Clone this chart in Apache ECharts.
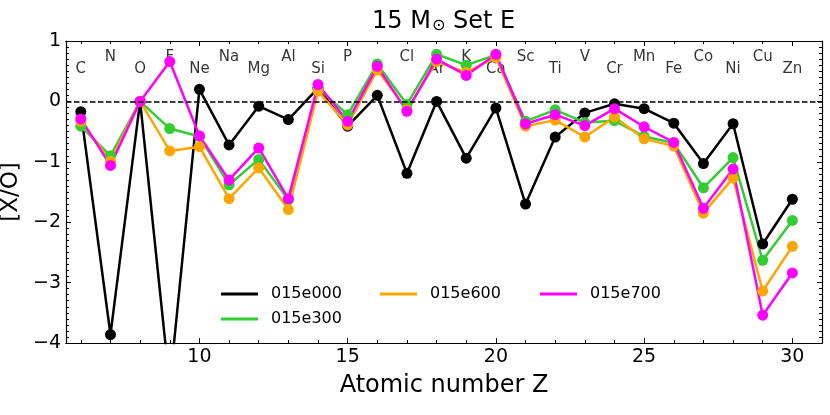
<!DOCTYPE html>
<html>
<head>
<meta charset="utf-8">
<script src="https://cdn.jsdelivr.net/npm/echarts@6/dist/echarts.min.js"></script>
<style>
  html, body { margin: 0; padding: 0; background: #fff; }
  #main { width: 830px; height: 415px; }
</style>
</head>
<body>
<div id="main"></div>
<script>
// atomic numbers and element symbols
var Z = [6, 7, 8, 9, 10, 11, 12, 13, 14, 15, 16, 17, 18, 19, 20, 21, 22, 23, 24, 25, 26, 27, 28, 29, 30];
var elements = ['C', 'N', 'O', 'F', 'Ne', 'Na', 'Mg', 'Al', 'Si', 'P', 'S', 'Cl', 'Ar', 'K', 'Ca',
                'Sc', 'Ti', 'V', 'Cr', 'Mn', 'Fe', 'Co', 'Ni', 'Cu', 'Zn'];

// [X/O] for each model
var e000 = [-0.17, -3.86, 0, -4.70, 0.20, -0.72, -0.08, -0.30, 0.22, -0.41, 0.10, -1.19, 0.00,
            -0.94, -0.11, -1.70, -0.59, -0.19, -0.04, -0.12, -0.36, -1.03, -0.37, -2.36, -1.62];
var e300 = [-0.41, -0.90, 0, -0.45, -0.58, -1.38, -0.96, -1.63, 0.22, -0.22, 0.62, -0.05, 0.78,
            0.60, 0.77, -0.33, -0.14, -0.35, -0.32, -0.58, -0.69, -1.43, -0.93, -2.63, -1.97];
var e600 = [-0.33, -0.99, 0, -0.82, -0.75, -1.61, -1.10, -1.79, 0.17, -0.39, 0.52, -0.14, 0.66,
            0.48, 0.73, -0.41, -0.31, -0.59, -0.26, -0.62, -0.74, -1.85, -1.27, -3.14, -2.40];
var e700 = [-0.29, -1.06, 0, 0.66, -0.57, -1.30, -0.77, -1.61, 0.28, -0.33, 0.58, -0.165, 0.70,
            0.43, 0.78, -0.37, -0.22, -0.40, -0.12, -0.42, -0.68, -1.77, -1.12, -3.54, -2.84];

var xMajor = [10, 15, 20, 25, 30];
var xMinor = [6, 7, 8, 9, 11, 12, 13, 14, 16, 17, 18, 19, 21, 22, 23, 24, 26, 27, 28, 29, 31];

var FONT = 'DejaVu Sans';
var myChart = echarts.init(document.getElementById('main'));

function pairs(vals) {
    return Z.map(function (z, i) { return [z, vals[i]]; });
}

// element symbols alternate between two heights
var labelData = Z.map(function (z, i) {
    return { name: elements[i], value: [z, z % 2 ? 0.73 : 0.535] };
});

function xAxisDef(pos, ticks, len, labels) {
    return {
        type: 'value', min: 5.5, max: 31, position: pos,
        axisLine: { show: true, onZero: false, lineStyle: { color: '#000', width: 1.2 } },
        axisTick: { show: true, inside: true, length: len, customValues: ticks, lineStyle: { color: '#000', width: 1 } },
        axisLabel: labels ? { show: true, customValues: ticks, color: '#000', fontFamily: FONT, fontSize: 19, margin: 5 } : { show: false },
        splitLine: { show: false }
    };
}

function yAxisDef(pos, labels) {
    return {
        type: 'value', min: -4, max: 1, interval: 1, position: pos,
        axisLine: { show: true, onZero: false, lineStyle: { color: '#000', width: 1.2 } },
        axisTick: { show: true, inside: true, length: 5, lineStyle: { color: '#000', width: 1 } },
        minorTick: { show: true, splitNumber: 10, length: 3, lineStyle: { color: '#000', width: 1 } },
        axisLabel: labels ? {
            show: true, color: '#000', fontFamily: FONT, fontSize: 19, margin: 5,
            formatter: function (v) { return String(v).replace('-', '\u2212'); }
        } : { show: false },
        splitLine: { show: false }
    };
}

var xAxes = [
    xAxisDef('bottom', xMajor, 5, true),
    xAxisDef('bottom', xMinor, 3, false),
    xAxisDef('top', xMajor, 5, false),
    xAxisDef('top', xMinor, 3, false)
];
xAxes[0].name = 'Atomic number Z';
xAxes[0].nameLocation = 'middle';
xAxes[0].nameGap = 31;
xAxes[0].nameTextStyle = { color: '#000', fontFamily: FONT, fontSize: 24 };

var yAxes = [yAxisDef('left', true), yAxisDef('right', false)];
yAxes[0].name = '[X/O]';
yAxes[0].nameLocation = 'middle';
yAxes[0].nameGap = 31;
yAxes[0].nameTextStyle = { color: '#000', fontFamily: FONT, fontSize: 23 };

function lineSeries(name, vals, color) {
    return {
        name: name, type: 'line', data: pairs(vals), z: 3,
        symbol: 'circle', symbolSize: 11, showSymbol: true,
        lineStyle: { color: color, width: 2.5 },
        itemStyle: { color: color },
        clip: true
    };
}

function legendDef(name, left, top) {
    return {
        data: [name], left: left, top: top, padding: 0,
        icon: 'rect', itemWidth: 37, itemHeight: 3,
        textStyle: { color: '#000', fontFamily: FONT, fontSize: 16, padding: [0, 0, 0, 8] },
        selectedMode: false
    };
}

var black = lineSeries('015e000', e000, '#000000');
black.markLine = {
    silent: true, symbol: 'none', label: { show: false },
    lineStyle: { color: '#000', type: [5.5, 2.5], width: 1.5 },
    data: [{ yAxis: 0 }]
};

var option = {
    backgroundColor: '#fff',
    animation: false,
    textStyle: { fontFamily: FONT },
    title: {
        text: '15 M{s|\u2299} Set E',
        left: 372, top: 9, padding: 0,
        textStyle: {
            color: '#000', fontFamily: FONT, fontSize: 24, fontWeight: 'normal',
            rich: { s: { fontFamily: FONT, fontSize: 16, color: '#000', padding: [9, 0, 0, 1] } }
        }
    },
    grid: { left: 66, right: 8, top: 41, bottom: 72, outerBoundsMode: 'none', containLabel: false },
    xAxis: xAxes,
    yAxis: yAxes,
    legend: [
        legendDef('015e000', 221, 286),
        legendDef('015e600', 380, 286),
        legendDef('015e700', 540, 286),
        legendDef('015e300', 221, 311)
    ],
    series: [
        {
            name: 'labels', type: 'scatter', data: labelData, z: 1,
            symbolSize: 1, itemStyle: { color: 'rgba(0,0,0,0)' },
            label: {
                show: true, position: 'inside', formatter: '{b}',
                color: '#000', fontFamily: FONT, fontSize: 15
            }
        },
        black,
        lineSeries('015e300', e300, '#32cd32'),
        lineSeries('015e600', e600, '#ffa500'),
        lineSeries('015e700', e700, '#ff00ff')
    ]
};
myChart.setOption(option);
</script>
</body>
</html>
